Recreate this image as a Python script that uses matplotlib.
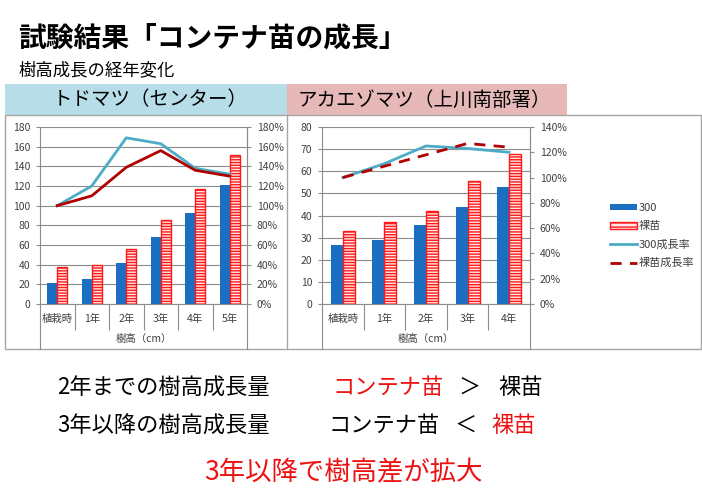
import matplotlib
matplotlib.use("Agg")
import matplotlib.pyplot as plt
from matplotlib.patches import Rectangle, Patch
from matplotlib.lines import Line2D
import numpy as np

plt.rcParams['font.family'] = ['Noto Sans CJK JP', 'DejaVu Sans']
plt.rcParams['hatch.linewidth'] = 1.0

# ---- data ----
cats_left = ["植栽時", "1年", "2年", "3年", "4年", "5年"]
todo_300 = [21, 25, 42, 68, 93, 121]
todo_bare = [38, 40, 56, 85, 117, 152]
todo_300_rate = [100, 120, 169, 163, 138, 132]
todo_bare_rate = [100, 110, 139, 156, 136, 130]

cats_right = ["植栽時", "1年", "2年", "3年", "4年"]
aka_300 = [26.5, 29, 35.5, 44, 53]
aka_bare = [33, 37, 42, 55.5, 68]
aka_300_rate = [100, 111, 125, 123, 120]
aka_bare_rate = [100, 109, 118, 127, 124]

left_yticks = [0, 20, 40, 60, 80, 100, 120, 140, 160, 180]
left_rticks = [0, 20, 40, 60, 80, 100, 120, 140, 160, 180]
right_yticks = [0, 10, 20, 30, 40, 50, 60, 70, 80]
right_rticks = [0, 20, 40, 60, 80, 100, 120, 140]

series_names = ["300", "裸苗", "300成長率", "裸苗成長率"]

BLUE = "#1a6fc2"
LBLUE = "#4bacc6"
DRED = "#b00000"
RED = "#ff1a1a"
GRID = "#8c8c8c"
TXT = "#404040"

W, H = 702, 504
fig = plt.figure(figsize=(W / 100, H / 100), dpi=100)


def fx(x):
    return x / W


def fy(y):
    return 1 - y / H


def pix_axes(x0, y0, x1, y1):
    return fig.add_axes([fx(x0), fy(y1), fx(x1 - x0), (y1 - y0) / H])


# header boxes and frame
fig.add_artist(Rectangle((fx(5), fy(115)), fx(282), (115 - 84) / H,
                         transform=fig.transFigure, facecolor="#b7dde8", edgecolor="none"))
fig.add_artist(Rectangle((fx(287), fy(115)), fx(280), (115 - 84) / H,
                         transform=fig.transFigure, facecolor="#e6b9b8", edgecolor="none"))
fig.add_artist(Rectangle((fx(5), fy(349)), fx(696), (349 - 115) / H,
                         transform=fig.transFigure, facecolor="none", edgecolor="#a6a6a6", lw=1))
fig.add_artist(Line2D([fx(287), fx(287)], [fy(115), fy(349)], transform=fig.transFigure,
                      color="#a6a6a6", lw=1))

fig.text(fx(18), fy(38), "試験結果「コンテナ苗の成長」", fontsize=20, fontweight="bold",
         ha="left", va="center", color="black")
fig.text(fx(18), fy(70), "樹高成長の経年変化", fontsize=12.5, ha="left", va="center", color="black")
fig.text(fx(150), fy(100), "トドマツ（センター）", fontsize=14, ha="center", va="center", color="black")
fig.text(fx(424), fy(100), "アカエゾマツ（上川南部署）", fontsize=14, ha="center", va="center", color="black")


def make_chart(x0, x1, cats, v300, vbare, r300, rbare, yt, rt, dashed):
    ax = pix_axes(x0, 127, x1, 304)
    n = len(cats)
    x = np.arange(n)
    bw = 0.29
    ax.bar(x - bw / 2, v300, width=bw, color=BLUE, zorder=3)
    ax.bar(x + bw / 2, vbare, width=bw, facecolor="#ffe6e6", edgecolor=RED, hatch="------",
           lw=1.0, zorder=3)
    ax.set_xlim(-0.5, n - 0.5)
    ax.set_ylim(yt[0], yt[-1])
    ax.set_yticks(yt)
    ax.set_yticklabels([str(v) for v in yt])
    ax.yaxis.grid(True, color=GRID, lw=0.8)
    ax.set_axisbelow(True)
    ax.set_xticks(x)
    ax.set_xticklabels(cats)
    ax.set_xticks(np.arange(-0.5, n, 1.0)[1:-1], minor=True)
    ax.tick_params(axis="x", which="major", length=0, pad=7, labelsize=7.5, labelcolor=TXT)
    ax.tick_params(axis="x", which="minor", length=19, width=0.8, color=GRID)
    ax.tick_params(axis="y", length=3, color=GRID, labelsize=7.5, labelcolor=TXT, pad=4)
    ax.spines["top"].set_visible(False)
    for s in ["left", "right", "bottom"]:
        ax.spines[s].set_color(GRID)
        ax.spines[s].set_linewidth(0.8)

    ax2 = ax.twinx()
    ax2.set_ylim(rt[0], rt[-1])
    ax2.set_yticks(rt)
    ax2.set_yticklabels([f"{v}%" for v in rt])
    ax2.tick_params(axis="y", length=3, color=GRID, labelsize=7.5, labelcolor=TXT, pad=4)
    for s in ["top", "left", "bottom"]:
        ax2.spines[s].set_visible(False)
    ax2.spines["right"].set_color(GRID)
    ax2.spines["right"].set_linewidth(0.8)
    ax2.plot(x, r300, color=LBLUE, lw=2, zorder=4)
    if dashed:
        ax2.plot(x, rbare, color=DRED, lw=2, ls=(0, (4, 3)), zorder=4)
    else:
        ax2.plot(x, rbare, color=DRED, lw=2, zorder=4)

    # extend the axis lines down through the category area
    for xx in (x0, x1):
        fig.add_artist(Line2D([fx(xx), fx(xx)], [fy(304), fy(349)], transform=fig.transFigure,
                              color=GRID, lw=0.8))
    fig.text(fx((x0 + x1) / 2), fy(339), "樹高（cm）", fontsize=7.5, ha="center", va="center",
             color=TXT)
    return ax


make_chart(40, 247, cats_left, todo_300, todo_bare, todo_300_rate, todo_bare_rate,
           left_yticks, left_rticks, dashed=False)
make_chart(322, 530, cats_right, aka_300, aka_bare, aka_300_rate, aka_bare_rate,
           right_yticks, right_rticks, dashed=True)

handles = [
    Patch(facecolor=BLUE, edgecolor="none"),
    Patch(facecolor="#ffe6e6", edgecolor=RED, hatch="----", lw=1.0),
    Line2D([], [], color=LBLUE, lw=2),
    Line2D([], [], color=DRED, lw=2, ls=(0, (4, 3))),
]
fig.legend(handles, series_names, loc="upper left", bbox_to_anchor=(fx(600), fy(193)),
           frameon=False, fontsize=8, handlelength=2.4, handleheight=0.5,
           labelspacing=0.75, handletextpad=0.2, labelcolor=TXT)

# bottom statements
r1, r2, r3 = 388, 426, 473
fs = 16
fig.text(fx(57), fy(r1), "2年までの樹高成長量", fontsize=fs, ha="left", va="center")
fig.text(fx(333), fy(r1), "コンテナ苗", fontsize=fs, ha="left", va="center", color="#ee1111")
fig.text(fx(470), fy(r1), "＞", fontsize=fs, ha="center", va="center")
fig.text(fx(498), fy(r1), "裸苗", fontsize=fs, ha="left", va="center")
fig.text(fx(57), fy(r2), "3年以降の樹高成長量", fontsize=fs, ha="left", va="center")
fig.text(fx(329), fy(r2), "コンテナ苗", fontsize=fs, ha="left", va="center")
fig.text(fx(466), fy(r2), "＜", fontsize=fs, ha="center", va="center")
fig.text(fx(491), fy(r2), "裸苗", fontsize=fs, ha="left", va="center", color="#ee1111")
fig.text(fx(343), fy(r3), "3年以降で樹高差が拡大", fontsize=19, ha="center", va="center",
         color="#ee1111")

fig.savefig("out.png", dpi=100)
